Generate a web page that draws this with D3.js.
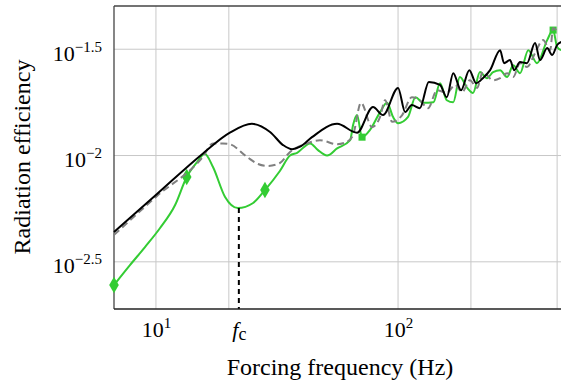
<!DOCTYPE html>
<html>
<head>
<meta charset="utf-8">
<script src="https://cdn.jsdelivr.net/npm/d3@7"></script>
<style>
  body { margin: 0; background: #fff; }
  text { font-family: "Liberation Serif", "Times New Roman", serif; fill: #000; }
</style>
</head>
<body>
<svg id="chart" width="561" height="383"></svg>
<script>
// values (Hz, radiation efficiency)
var blackFreq = [6.71, 10.1, 15.6, 20.2, 24.9, 29.6, 33.5, 36.5, 39.4, 44.1, 56.0, 67.7, 78.8, 86.7, 100, 107, 114, 123, 134, 149, 159, 169, 182, 197, 210, 224, 240, 264, 274, 290, 302, 319, 341, 368, 386, 413, 433, 454, 472];
var blackEff  = [0.00437, 0.00659, 0.0102, 0.0128, 0.0141, 0.0129, 0.0112, 0.0107, 0.0110, 0.0122, 0.0141, 0.0128, 0.0169, 0.0155, 0.0208, 0.0160, 0.0173, 0.0167, 0.0222, 0.0215, 0.0188, 0.0244, 0.0203, 0.0252, 0.0219, 0.0231, 0.0252, 0.0313, 0.0272, 0.0281, 0.0252, 0.0275, 0.0272, 0.0338, 0.0281, 0.0320, 0.0297, 0.0331, 0.0342];

var greenFreq = [6.71, 7.81, 9.01, 10.4, 12.0, 13.4, 14.8, 15.9, 17.2, 19.3, 21.8, 25.2, 28.2, 32.5, 35.8, 38.3, 43.3, 46.7, 50.9, 56.0, 63.4, 65.2, 67.7, 71.0, 76.6, 84.3, 90.1, 95.3, 100, 110, 118, 127, 140, 149, 159, 169, 180, 193, 204, 218, 233, 247, 264, 282, 299, 319, 345, 375, 413, 437, 454, 472];
var greenEff  = [0.00246, 0.00305, 0.00371, 0.00456, 0.00585, 0.00792, 0.00932, 0.0102, 0.00883, 0.00638, 0.00566, 0.00598, 0.00688, 0.00846, 0.0100, 0.0103, 0.0114, 0.0106, 0.0100, 0.0108, 0.0118, 0.0139, 0.0155, 0.0122, 0.0132, 0.0160, 0.0177, 0.0152, 0.0142, 0.0152, 0.0188, 0.0177, 0.0178, 0.0219, 0.0182, 0.0178, 0.0234, 0.0208, 0.0197, 0.0247, 0.0231, 0.0247, 0.0252, 0.0234, 0.0266, 0.0244, 0.0313, 0.0272, 0.0349, 0.0389, 0.0324, 0.0313];
var greenDiamonds = [6.71, 13.4, 28.2];
var greenSquares  = [71.0, 437];

var grayFreq = [6.71, 10.1, 15.6, 17.2, 18.9, 20.2, 23.8, 26.4, 29.0, 32.5, 35.8, 42.1, 47.6, 56.0, 61.5, 65.2, 70.3, 78.1, 84.3, 88.4, 94.5, 104, 114, 123, 133, 145, 159, 172, 184, 198, 212, 224, 247, 264, 282, 299, 319, 341, 368, 397, 425, 437, 458];
var grayEff  = [0.00423, 0.00645, 0.00984, 0.0114, 0.0114, 0.0113, 0.00984, 0.00912, 0.00893, 0.00922, 0.0104, 0.0114, 0.0118, 0.0113, 0.0116, 0.0125, 0.0177, 0.0136, 0.0152, 0.0182, 0.0144, 0.0155, 0.0188, 0.0182, 0.0167, 0.0203, 0.0197, 0.0215, 0.0199, 0.0226, 0.0208, 0.0247, 0.0226, 0.0231, 0.0244, 0.0234, 0.0272, 0.0261, 0.0303, 0.0349, 0.0313, 0.0398, 0.0377];

var fcFreq = 22.0, fcEff = 0.00566;

var xGrid = [10, 20, 100, 200, 454];
var yTickVals = [Math.pow(10, -1.5), Math.pow(10, -2), Math.pow(10, -2.5)];
var yTickExp = ["\u22121.5", "\u22122", "\u22122.5"];

var svg = d3.select("#chart");
var mLeft = 114, mTop = 6, mBottom = 309, mRight = 566;

var x = d3.scaleLog().domain([6.71, 494]).range([mLeft, mRight]);
var y = d3.scaleLog().domain([0.001897, 0.0505]).range([mBottom, mTop]);

// grid
svg.append("g").selectAll("line").data(xGrid).enter().append("line")
  .attr("x1", function(d) { return x(d); }).attr("x2", function(d) { return x(d); })
  .attr("y1", mTop).attr("y2", mBottom)
  .attr("stroke", "#c8c8c8").attr("stroke-width", 1);
svg.append("g").selectAll("line").data(yTickVals).enter().append("line")
  .attr("x1", mLeft).attr("x2", mRight)
  .attr("y1", function(d) { return y(d); }).attr("y2", function(d) { return y(d); })
  .attr("stroke", "#c8c8c8").attr("stroke-width", 1);

// frame
svg.append("line").attr("x1", mLeft).attr("x2", mRight).attr("y1", mTop).attr("y2", mTop)
  .attr("stroke", "#444").attr("stroke-width", 1.3);
svg.append("line").attr("x1", mLeft).attr("x2", mLeft).attr("y1", mTop).attr("y2", mBottom)
  .attr("stroke", "#444").attr("stroke-width", 1.3);

function series(fr, ef) {
  return fr.map(function(f, i) { return [f, ef[i]]; });
}
var line = d3.line()
  .x(function(d) { return x(d[0]); })
  .y(function(d) { return y(d[1]); })
  .curve(d3.curveMonotoneX);

function effAt(f) {
  return greenEff[greenFreq.indexOf(f)];
}

svg.append("path").datum(series(greenFreq, greenEff))
  .attr("d", line).attr("fill", "none")
  .attr("stroke", "#33cc33").attr("stroke-width", 2);

svg.selectAll(".diamond").data(greenDiamonds).enter().append("path")
  .attr("class", "diamond")
  .attr("d", d3.symbol().type(d3.symbolDiamond).size(80))
  .attr("transform", function(d) { return "translate(" + x(d) + "," + y(effAt(d)) + ")"; })
  .attr("fill", "#33cc33");
svg.selectAll(".square").data(greenSquares).enter().append("path")
  .attr("class", "square")
  .attr("d", d3.symbol().type(d3.symbolSquare).size(50))
  .attr("transform", function(d) { return "translate(" + x(d) + "," + y(effAt(d)) + ")"; })
  .attr("fill", "#33cc33");

svg.append("path").datum(series(grayFreq, grayEff))
  .attr("d", line).attr("fill", "none")
  .attr("stroke", "#808080").attr("stroke-width", 2)
  .attr("stroke-dasharray", "7,4");

svg.append("path").datum(series(blackFreq, blackEff))
  .attr("d", line).attr("fill", "none")
  .attr("stroke", "#000").attr("stroke-width", 2);

// fc marker line
svg.append("line")
  .attr("x1", x(fcFreq)).attr("x2", x(fcFreq))
  .attr("y1", y(fcEff)).attr("y2", mBottom)
  .attr("stroke", "#000").attr("stroke-width", 2)
  .attr("stroke-dasharray", "5,4");

// bottom axis
var gx = svg.append("g").attr("transform", "translate(0," + mBottom + ")")
  .call(d3.axisBottom(x).tickValues([10, fcFreq, 100]).tickSize(0).tickFormat(""));
gx.select(".domain").attr("stroke", "#222").attr("stroke-width", 1.3)
  .attr("d", "M" + mLeft + ",0H" + mRight);
gx.selectAll(".tick").each(function(d) {
  var t = d3.select(this).append("text")
    .attr("y", 28).attr("text-anchor", "middle").style("font-size", "22px");
  if (d === fcFreq) {
    t.append("tspan").style("font-style", "italic").text("f");
    t.append("tspan").attr("dy", 3).style("font-size", "18px").text("c");
  } else {
    t.append("tspan").text("10");
    t.append("tspan").attr("dy", -9).style("font-size", "15px").text(d === 10 ? "1" : "2");
  }
});

// left axis labels
var gy = svg.append("g").attr("transform", "translate(" + mLeft + ",0)")
  .call(d3.axisLeft(y).tickValues(yTickVals).tickSize(0).tickFormat(""));
gy.select(".domain").remove();
gy.selectAll(".tick").each(function(d, i) {
  var t = d3.select(this).append("text")
    .attr("x", -12).attr("y", 11).attr("text-anchor", "end").style("font-size", "22px");
  t.append("tspan").text("10");
  t.append("tspan").attr("dy", -9).style("font-size", "15px").text(yTickExp[i]);
});

// titles
svg.append("text")
  .attr("x", 340).attr("y", 375)
  .attr("text-anchor", "middle").style("font-size", "24px")
  .text("Forcing frequency (Hz)");
svg.append("text")
  .attr("transform", "translate(30,157) rotate(-90)")
  .attr("text-anchor", "middle").style("font-size", "24px")
  .text("Radiation efficiency");
</script>
</body>
</html>
